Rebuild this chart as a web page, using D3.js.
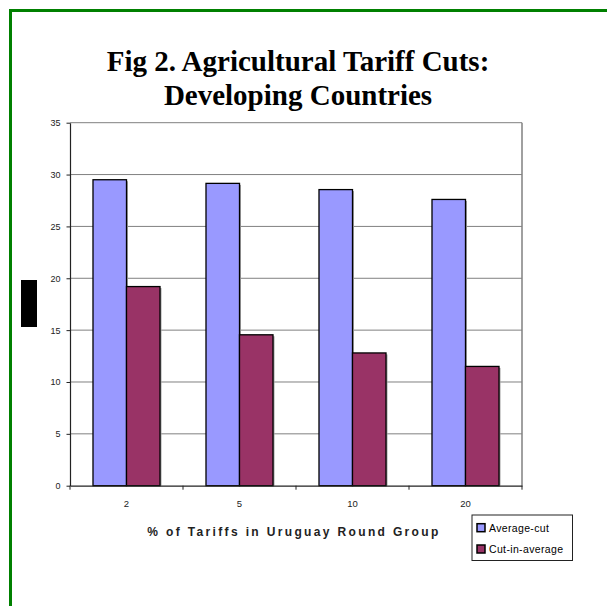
<!DOCTYPE html>
<html><head><meta charset="utf-8">
<script src="https://cdn.jsdelivr.net/npm/d3@7"></script>
<style>html,body{margin:0;padding:0;background:#fff;overflow:hidden}</style>
</head><body>
<script>
const categories = ["2", "5", "10", "20"];
const seriesNames = ["Average-cut", "Cut-in-average"];
const averageCut = [29.5, 29.15, 28.55, 27.6];
const cutInAverage = [19.2, 14.55, 12.8, 11.5];
const yTicks = [0, 5, 10, 15, 20, 25, 30, 35];
const colors = ["#9999ff", "#993366"];

const W = 607, H = 606;
const svg = d3.select("body").append("svg").attr("width", W).attr("height", H);

// green frame
svg.append("rect").attr("x", 10.5).attr("y", 10.5).attr("width", 700).attr("height", 700)
  .attr("fill", "none").attr("stroke", "#008000").attr("stroke-width", 3);

const plot = {l: 70, r: 522, t: 122.7, b: 485.7};
const x = d3.scaleBand().domain(categories).range([plot.l, plot.r]).paddingInner(0).paddingOuter(0);
const y = d3.scaleLinear().domain([0, 35]).range([plot.b, plot.t]);
const groupFrac = 0.593;
const x1 = d3.scaleBand().domain(seriesNames)
  .range([x.bandwidth() * (1 - groupFrac) / 2, x.bandwidth() * (1 + groupFrac) / 2]);

// gridlines
svg.append("g").selectAll("line").data(yTicks.filter(d => d > 0)).join("line")
  .attr("x1", plot.l).attr("x2", plot.r).attr("y1", d => y(d)).attr("y2", d => y(d))
  .attr("stroke", "#808080").attr("stroke-width", 1);
// right border
svg.append("line").attr("x1", plot.r).attr("x2", plot.r).attr("y1", plot.t).attr("y2", plot.b)
  .attr("stroke", "#808080").attr("stroke-width", 1.5);

// bars
const series = [averageCut, cutInAverage];
series.forEach((vals, si) => {
  const g = svg.append("g");
  g.selectAll("rect.sh").data(vals).join("rect").attr("class", "sh")
    .attr("x", (d, i) => x(categories[i]) + x1(seriesNames[si]) + 1.5)
    .attr("width", x1.bandwidth())
    .attr("y", d => y(d) + 1.5).attr("height", d => y(0) - y(d) - 1.5)
    .attr("fill", "#a0a0a0");
  g.selectAll("rect.bar").data(vals).join("rect").attr("class", "bar")
    .attr("x", (d, i) => x(categories[i]) + x1(seriesNames[si]))
    .attr("width", x1.bandwidth())
    .attr("y", d => y(d)).attr("height", d => y(0) - y(d))
    .attr("fill", colors[si]).attr("stroke", "#000").attr("stroke-width", 1.3);
});

// y axis
const yAxis = svg.append("g").attr("transform", `translate(${plot.l},0)`)
  .call(d3.axisLeft(y).tickValues(yTicks).tickSize(3.5).tickSizeOuter(0).tickPadding(6));
yAxis.select(".domain").attr("stroke", "#222").attr("stroke-width", 1.2);
yAxis.selectAll(".tick line").attr("stroke", "#222");
yAxis.selectAll("text").attr("font-family", "Arial, 'Liberation Sans', sans-serif")
  .attr("font-size", 9).attr("fill", "#222");

// x axis
const xAxis = svg.append("g").attr("transform", `translate(0,${plot.b})`)
  .call(d3.axisBottom(x).tickSize(0).tickPadding(15));
xAxis.select(".domain").attr("stroke", "#222").attr("stroke-width", 1.2);
xAxis.selectAll("text").attr("font-family", "Arial, 'Liberation Sans', sans-serif")
  .attr("font-size", 9.5).attr("fill", "#222");
// category boundary ticks
svg.append("g").selectAll("line").data(d3.range(categories.length + 1)).join("line")
  .attr("x1", i => plot.l + i * x.bandwidth()).attr("x2", i => plot.l + i * x.bandwidth())
  .attr("y1", plot.b).attr("y2", plot.b + 4).attr("stroke", "#222").attr("stroke-width", 1);

// x axis title
svg.append("text").attr("x", 294).attr("y", 536).attr("text-anchor", "middle")
  .attr("font-family", "Arial, 'Liberation Sans', sans-serif").attr("font-weight", "bold")
  .attr("font-size", 12).attr("letter-spacing", 2.35).attr("fill", "#222")
  .text("% of Tariffs in Uruguay Round Group");

// title
const title = svg.append("text").attr("text-anchor", "middle")
  .attr("font-family", "'Times New Roman', 'Liberation Serif', serif").attr("font-weight", "bold")
  .attr("font-size", 29).attr("fill", "#000");
title.append("tspan").attr("x", 298).attr("y", 71).text("Fig 2. Agricultural Tariff Cuts:");
title.append("tspan").attr("x", 298).attr("y", 105).text("Developing Countries");

// black block
svg.append("rect").attr("x", 21).attr("y", 280).attr("width", 16).attr("height", 47).attr("fill", "#000");

// legend
const lg = svg.append("g");
lg.append("rect").attr("x", 472).attr("y", 515).attr("width", 100.5).attr("height", 45.5)
  .attr("fill", "#fff").attr("stroke", "#222").attr("stroke-width", 1);
seriesNames.forEach((n, i) => {
  const cy = 527.7 + i * 21.3;
  lg.append("rect").attr("x", 477).attr("y", cy - 4).attr("width", 8).attr("height", 8)
    .attr("fill", colors[i]).attr("stroke", "#000").attr("stroke-width", 1.5);
  lg.append("text").attr("x", 489).attr("y", cy + 4)
    .attr("font-family", "Arial, 'Liberation Sans', sans-serif").attr("font-size", 10.5)
    .attr("letter-spacing", 0.35).attr("fill", "#000").text(n);
});
</script>
</body></html>
